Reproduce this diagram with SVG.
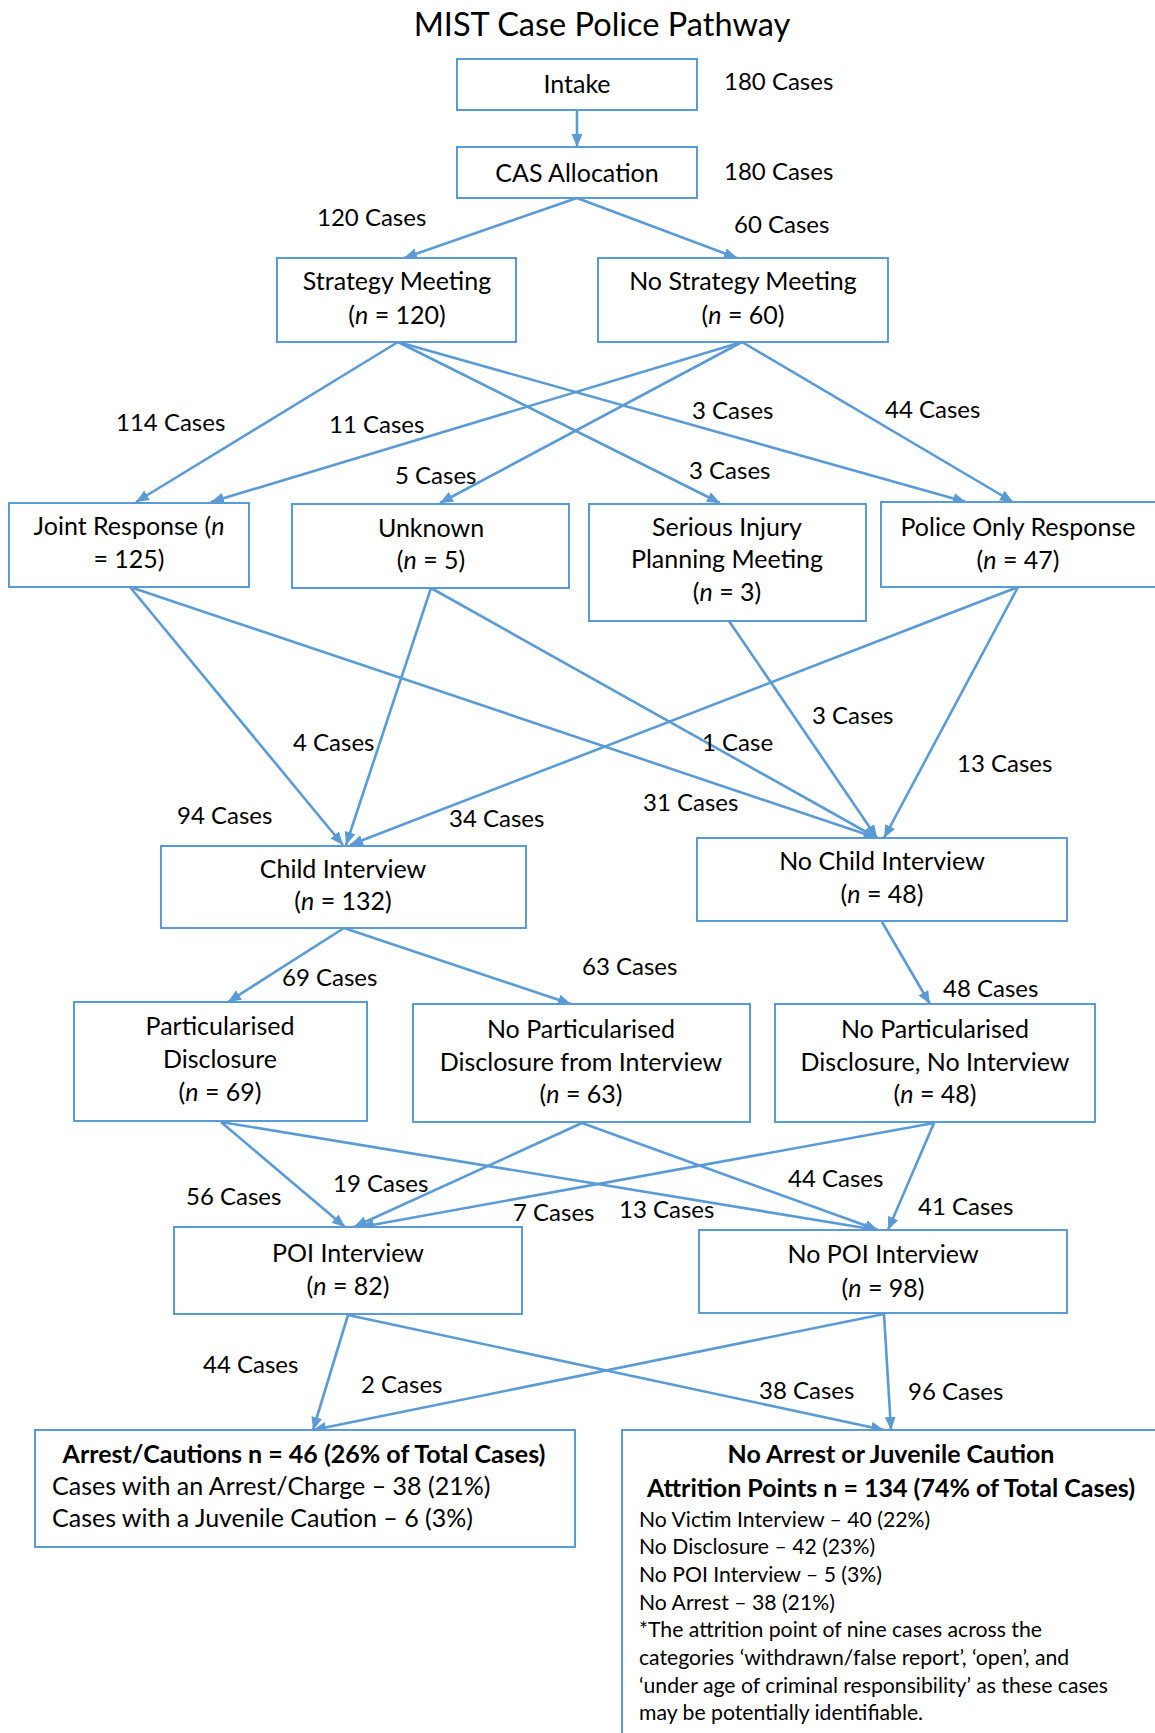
<svg xmlns="http://www.w3.org/2000/svg" width="1155" height="1733" viewBox="0 0 1155 1733">
<defs>
<marker id="arr" markerUnits="userSpaceOnUse" markerWidth="14" markerHeight="12" refX="13" refY="5.5" orient="auto">
<path d="M0,0 L13,5.5 L0,11 z" fill="#5B9BD5"/>
</marker>
<style>
.box{fill:#fff;stroke:#5B9BD5;stroke-width:2}
.t{font-family:Lato,"Open Sans","Liberation Sans",sans-serif;font-size:25px;fill:#000;text-anchor:middle}
.l{font-family:Lato,"Open Sans","Liberation Sans",sans-serif;font-size:24px;fill:#000}
.r{font-family:Lato,"Open Sans","Liberation Sans",sans-serif;font-size:25px;fill:#000}
.b{font-weight:bold}
.s{font-family:Lato,"Open Sans","Liberation Sans",sans-serif;font-size:21.2px;fill:#000}
.i{font-style:italic}
#connectors line{stroke:#5B9BD5;stroke-width:2.6;marker-end:url(#arr)}
</style>
</defs>
<rect width="1155" height="1733" fill="#fff"/>
<text class="t" x="602" y="36" style="font-size:32.5px">MIST Case Police Pathway</text>

<g id="connectors">
<line x1="577" y1="110" x2="577" y2="147"/>
<line x1="577" y1="198" x2="404" y2="258"/>
<line x1="577" y1="198" x2="737" y2="258"/>
<line x1="398" y1="342" x2="136" y2="502"/>
<line x1="398" y1="342" x2="720" y2="503"/>
<line x1="398" y1="342" x2="966" y2="502"/>
<line x1="742" y1="342" x2="211" y2="502"/>
<line x1="742" y1="342" x2="440" y2="503"/>
<line x1="742" y1="342" x2="1013" y2="502"/>
<line x1="130" y1="587" x2="343" y2="845"/>
<line x1="130" y1="587" x2="877" y2="838"/>
<line x1="431" y1="588" x2="346" y2="845"/>
<line x1="431" y1="588" x2="877" y2="838"/>
<line x1="729" y1="621" x2="877" y2="838"/>
<line x1="1018" y1="587" x2="350" y2="845"/>
<line x1="1018" y1="587" x2="884" y2="838"/>
<line x1="344" y1="928" x2="228" y2="1002"/>
<line x1="344" y1="928" x2="571" y2="1004"/>
<line x1="882" y1="922" x2="930" y2="1004"/>
<line x1="221" y1="1122" x2="345" y2="1227"/>
<line x1="221" y1="1122" x2="877" y2="1230"/>
<line x1="582" y1="1123" x2="354" y2="1227"/>
<line x1="582" y1="1123" x2="878" y2="1230"/>
<line x1="934" y1="1123" x2="361" y2="1227"/>
<line x1="934" y1="1123" x2="888" y2="1230"/>
<line x1="348" y1="1315" x2="313" y2="1430"/>
<line x1="348" y1="1315" x2="884" y2="1430"/>
<line x1="884" y1="1314" x2="313" y2="1430"/>
<line x1="884" y1="1314" x2="891" y2="1430"/>
</g>

<g id="labels">
<text class="l" x="724" y="90">180 Cases</text>
<text class="l" x="724" y="180">180 Cases</text>
<text class="l" x="317" y="226">120 Cases</text>
<text class="l" x="734" y="233">60 Cases</text>
<text class="l" x="116" y="431">114 Cases</text>
<text class="l" x="329" y="433">11 Cases</text>
<text class="l" x="692" y="419">3 Cases</text>
<text class="l" x="885" y="418">44 Cases</text>
<text class="l" x="395" y="484">5 Cases</text>
<text class="l" x="689" y="479">3 Cases</text>
<text class="l" x="293" y="751">4 Cases</text>
<text class="l" x="702" y="751">1 Case</text>
<text class="l" x="812" y="724">3 Cases</text>
<text class="l" x="957" y="772">13 Cases</text>
<text class="l" x="177" y="824">94 Cases</text>
<text class="l" x="449" y="827">34 Cases</text>
<text class="l" x="643" y="811">31 Cases</text>
<text class="l" x="282" y="986">69 Cases</text>
<text class="l" x="582" y="975">63 Cases</text>
<text class="l" x="943" y="997">48 Cases</text>
<text class="l" x="186" y="1205">56 Cases</text>
<text class="l" x="333" y="1192">19 Cases</text>
<text class="l" x="788" y="1187">44 Cases</text>
<text class="l" x="513" y="1221">7 Cases</text>
<text class="l" x="619" y="1218">13 Cases</text>
<text class="l" x="918" y="1215">41 Cases</text>
<text class="l" x="203" y="1373">44 Cases</text>
<text class="l" x="361" y="1393">2 Cases</text>
<text class="l" x="759" y="1399">38 Cases</text>
<text class="l" x="908" y="1400">96 Cases</text>
</g>

<g id="intake"><rect class="box" x="457" y="59" width="240" height="51"/><text class="t" x="577" y="93">Intake</text></g>
<g id="cas"><rect class="box" x="457" y="147" width="240" height="51"/><text class="t" x="577" y="182">CAS Allocation</text></g>
<g id="strategy"><rect class="box" x="277" y="258" width="239" height="84"/><text class="t" x="397" y="290">Strategy Meeting</text><text class="t" x="397" y="324">(<tspan class="i">n</tspan> = 120)</text></g>
<g id="nostrategy"><rect class="box" x="598" y="258" width="290" height="84"/><text class="t" x="743" y="290">No Strategy Meeting</text><text class="t" x="743" y="324">(<tspan class="i">n</tspan> = 60)</text></g>
<g id="joint"><rect class="box" x="9" y="503" width="240" height="84"/><text class="t" x="129" y="535">Joint Response (<tspan class="i">n</tspan></text><text class="t" x="129" y="568">= 125)</text></g>
<g id="unknown"><rect class="box" x="292" y="504" width="277" height="84"/><text class="t" x="431" y="537">Unknown</text><text class="t" x="431" y="569">(<tspan class="i">n</tspan> = 5)</text></g>
<g id="serious"><rect class="box" x="589" y="504" width="277" height="117"/><text class="t" x="727" y="536">Serious Injury</text><text class="t" x="727" y="568">Planning Meeting</text><text class="t" x="727" y="601">(<tspan class="i">n</tspan> = 3)</text></g>
<g id="policeonly"><rect class="box" x="881" y="502" width="290" height="85"/><text class="t" x="1018" y="536">Police Only Response</text><text class="t" x="1018" y="569">(<tspan class="i">n</tspan> = 47)</text></g>
<g id="child"><rect class="box" x="161" y="846" width="365" height="82"/><text class="t" x="343" y="878">Child Interview</text><text class="t" x="343" y="910">(<tspan class="i">n</tspan> = 132)</text></g>
<g id="nochild"><rect class="box" x="697" y="838" width="370" height="83"/><text class="t" x="882" y="870">No Child Interview</text><text class="t" x="882" y="903">(<tspan class="i">n</tspan> = 48)</text></g>
<g id="partic"><rect class="box" x="74" y="1002" width="293" height="119"/><text class="t" x="220" y="1035">Particularised</text><text class="t" x="220" y="1068">Disclosure</text><text class="t" x="220" y="1101">(<tspan class="i">n</tspan> = 69)</text></g>
<g id="nopartint"><rect class="box" x="413" y="1004" width="337" height="118"/><text class="t" x="581" y="1038">No Particularised</text><text class="t" x="581" y="1071">Disclosure from Interview</text><text class="t" x="581" y="1103">(<tspan class="i">n</tspan> = 63)</text></g>
<g id="nopartnoint"><rect class="box" x="775" y="1004" width="320" height="118"/><text class="t" x="935" y="1038">No Particularised</text><text class="t" x="935" y="1071">Disclosure, No Interview</text><text class="t" x="935" y="1103">(<tspan class="i">n</tspan> = 48)</text></g>
<g id="poi"><rect class="box" x="174" y="1227" width="348" height="87"/><text class="t" x="348" y="1262">POI Interview</text><text class="t" x="348" y="1295">(<tspan class="i">n</tspan> = 82)</text></g>
<g id="nopoi"><rect class="box" x="699" y="1230" width="368" height="83"/><text class="t" x="883" y="1263">No POI Interview</text><text class="t" x="883" y="1297">(<tspan class="i">n</tspan> = 98)</text></g>
<g id="arrest"><rect class="box" x="35" y="1430" width="540" height="117"/>
<text class="t b" x="304" y="1463">Arrest/Cautions n = 46 (26% of Total Cases)</text>
<text class="r" x="52" y="1495">Cases with an Arrest/Charge – 38 (21%)</text>
<text class="r" x="52" y="1527">Cases with a Juvenile Caution – 6 (3%)</text></g>
<g id="noarrest"><rect class="box" x="622" y="1430" width="545" height="320"/>
<text class="t b" x="891" y="1463">No Arrest or Juvenile Caution</text>
<text class="t b" x="891" y="1497">Attrition Points n = 134 (74% of Total Cases)</text>
<text class="s" x="639" y="1527">No Victim Interview – 40 (22%)</text>
<text class="s" x="639" y="1554">No Disclosure – 42 (23%)</text>
<text class="s" x="639" y="1582">No POI Interview – 5 (3%)</text>
<text class="s" x="639" y="1610">No Arrest – 38 (21%)</text>
<text class="s" x="639" y="1637">*The attrition point of nine cases across the</text>
<text class="s" x="639" y="1665">categories ‘withdrawn/false report’, ‘open’, and</text>
<text class="s" x="639" y="1693">‘under age of criminal responsibility’ as these cases</text>
<text class="s" x="639" y="1720">may be potentially identifiable.</text></g>
</svg>
